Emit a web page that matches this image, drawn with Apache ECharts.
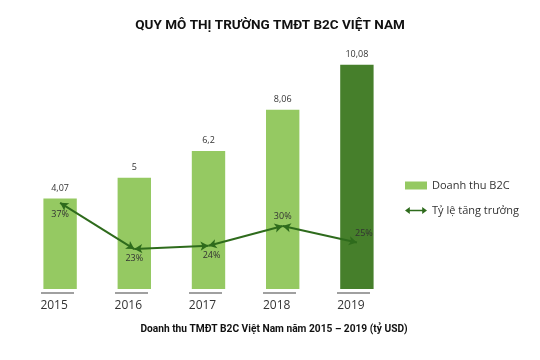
<!DOCTYPE html>
<html><head><meta charset="utf-8">
<script src="https://cdn.jsdelivr.net/npm/echarts@6/dist/echarts.min.js"></script>
<style>html,body{margin:0;padding:0;background:#fff}#c{width:540px;height:360px}</style>
</head><body><div id="c"></div>
<script>
const years = ['2015','2016','2017','2018','2019'];
const revenue = [4.07, 5, 6.2, 8.06, 10.08];
const revenueLabels = ['4,07','5','6,2','8,06','10,08'];
const growth = [37, 23, 24, 30, 25];
const growthLabels = ['37%','23%','24%','30%','25%'];

const FONT = '"Open Sans", "Noto Sans", sans-serif';
const TFONT = 'Roboto, sans-serif';
const LIGHT = '#95c962';
const DARK = '#467f2b';
const LINE = '#2e6b1c';
const labelPos = ['bottom','bottom','bottom','top','top'];
const labelOff = [[0,2],[0,0],[3,0],[0,0],[7,0]];

const chart = echarts.init(document.getElementById('c'));
const arrowPairs = [];
for (let i = 0; i < years.length - 1; i++) {
  arrowPairs.push([{coord:[years[i], growth[i]]},{coord:[years[i+1], growth[i+1]]}]);
}
chart.setOption({
  animation:false,
  title:[
    {text:'QUY MÔ THỊ TRƯỜNG TMĐT B2C VIỆT NAM', left:265, textAlign:'center', top:14,
     textStyle:{fontFamily:TFONT, fontSize:13.5, fontWeight:'bold', color:'#111'}},
    {text:'Doanh thu TMĐT B2C Việt Nam năm 2015 – 2019 (tỷ USD)', left:269, textAlign:'center', top:319,
     textStyle:{fontFamily:TFONT, fontSize:10.2, fontWeight:'bold', color:'#111'}}
  ],
  legend:{
    orient:'vertical', left:400, top:175, itemGap:14, itemWidth:22, itemHeight:8,
    textStyle:{fontFamily:FONT, fontSize:11, color:'#333'},
    data:[
      {name:'Doanh thu B2C', icon:'rect'},
      {name:'Tỷ lệ tăng trưởng', icon:'path://M0,5 L7,0 L7,3.8 L25,3.8 L25,0 L32,5 L25,10 L25,6.2 L7,6.2 L7,10 Z', itemStyle:{color:LINE, opacity:1}}
    ]
  },
  grid:{left:23, right:146, top:22, bottom:71},
  xAxis:{type:'category', data:years,
    axisLine:{show:false}, axisTick:{show:false},
    axisLabel:{fontFamily:FONT, fontSize:12, color:'#333', margin:11, padding:[0,12,0,0]}},
  yAxis:[
    {type:'value', min:0, max:12, show:false, splitLine:{show:false}},
    {type:'value', min:10.9, max:91.8, show:false, splitLine:{show:false}}
  ],
  series:[
    {name:'Doanh thu B2C', type:'bar', barWidth:'45%',
     itemStyle:{color:LIGHT},
     data: revenue.map((v,i)=>({value:v, itemStyle:{color: i===revenue.length-1 ? DARK : LIGHT}})),
     label:{show:true, position:'top', distance:6, fontFamily:FONT, fontSize:9, color:'#333',
       formatter:p=>revenueLabels[p.dataIndex]}},
    {name:'axisMarks', type:'custom', data: years.map(y=>[y]), silent:true, z:3, clip:false,
     renderItem:(params, api)=>{
       const p = api.coord([api.value(0), 0]);
       const w = Math.round(api.size([1,0])[0]*0.45);
       return {type:'rect', shape:{x:Math.round(p[0]-w/2-3), y:Math.round(p[1])+3, width:w, height:2}, style:{fill:'#a0a0a0'}};
     }},
    {name:'Tỷ lệ tăng trưởng', type:'line', yAxisIndex:1, symbol:'circle', symbolSize:0, showSymbol:true,
     itemStyle:{color:LINE}, lineStyle:{opacity:0}, z:5,
     data: growth.map((v,i)=>({value:v, label:{position:labelPos[i], offset:labelOff[i]}})),
     label:{show:true, distance:5, fontFamily:FONT, fontSize:9, color:'#333',
       formatter:p=>growthLabels[p.dataIndex]},
     markLine:{silent:true, symbol:['arrow','arrow'], symbolSize:[7,8], precision:2,
       lineStyle:{color:LINE, width:2, type:'solid'}, label:{show:false},
       emphasis:{disabled:true}, data:arrowPairs}}
  ]
});
</script></body></html>
